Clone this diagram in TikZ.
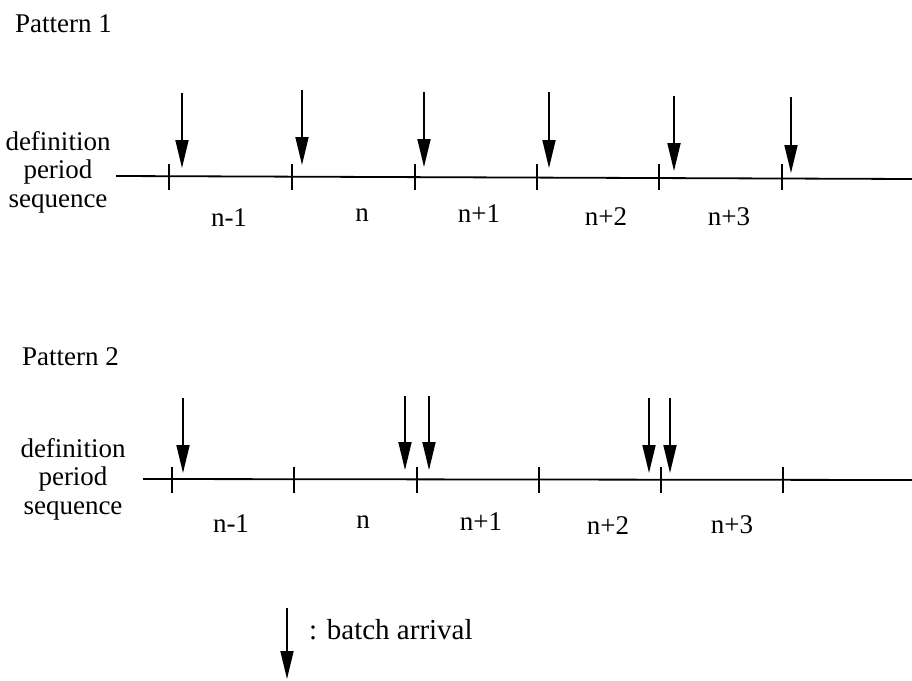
\documentclass[tikz,border=0pt]{standalone}
\usepackage{fontspec}
\setmainfont{Liberation Serif}
\usetikzlibrary{arrows.meta}

\tikzset{
  lbl/.style={inner sep=0pt, font=\fontsize{27}{28.5}\selectfont},
  seg/.style={lbl, anchor=base},
  axis/.style={line width=1.8pt},
  tick/.style={line width=1.8pt},
  arrival/.style={line width=1.8pt, -{Triangle[length=28pt,width=13pt]}}
}

\begin{document}
\begin{tikzpicture}[x=1pt, y=-1pt]
\useasboundingbox (0,0) rectangle (912,680);

% ---------- Pattern 1 ----------
\node[lbl, anchor=west] (p1) at (15,24) {Pattern 1};
\node[lbl, align=center] (d1) at (58,172) {definition\\period\\sequence};

\coordinate (a1s) at (116,176);
\coordinate (a1e) at (912,179);
\draw[axis] (a1s) -- (a1e);

\foreach \x [count=\i] in {169,292,415,537,659,782}{
  \coordinate (t1\i a) at (\x,164);
  \coordinate (t1\i b) at (\x,190);
  \draw[tick] (t1\i a) -- (t1\i b);
}

\foreach \x/\ya/\yb [count=\i] in {182/93/168, 302/90/165, 424/92/167, 549/92/168, 674/96/171, 791/97/173}{
  \coordinate (r1\i a) at (\x,\ya);
  \coordinate (r1\i b) at (\x,\yb);
  \draw[arrival] (r1\i a) -- (r1\i b);
}

\node[seg] (n1a) at (229,226) {n-1};
\node[seg] (n1b) at (362,221) {n};
\node[seg] (n1c) at (479,222) {n+1};
\node[seg] (n1d) at (606,225) {n+2};
\node[seg] (n1e) at (729,225) {n+3};

% ---------- Pattern 2 ----------
\node[lbl, anchor=west] (p2) at (22,357) {Pattern 2};
\node[lbl, align=center] (d2) at (73,479) {definition\\period\\sequence};

\coordinate (a2s) at (143,479);
\coordinate (a2e) at (912,480);
\draw[axis] (a2s) -- (a2e);

\foreach \x [count=\i] in {172,294,417,539,661,783}{
  \coordinate (t2\i a) at (\x,467);
  \coordinate (t2\i b) at (\x,493);
  \draw[tick] (t2\i a) -- (t2\i b);
}

\foreach \x/\ya/\yb [count=\i] in {183/398/473, 405/396/470, 429/396/470, 649/398/473, 670/398/473}{
  \coordinate (r2\i a) at (\x,\ya);
  \coordinate (r2\i b) at (\x,\yb);
  \draw[arrival] (r2\i a) -- (r2\i b);
}

\node[seg] (n2a) at (231,532) {n-1};
\node[seg] (n2b) at (363,528) {n};
\node[seg] (n2c) at (481,530) {n+1};
\node[seg] (n2d) at (608,534) {n+2};
\node[seg] (n2e) at (732,533) {n+3};

% ---------- Legend ----------
\coordinate (ka) at (287,608);
\coordinate (kb) at (287,679);
\draw[arrival] (ka) -- (kb);
\node[lbl, anchor=west, font=\fontsize{29}{30}\selectfont] (key) at (309,630) {: batch arrival};

\end{tikzpicture}
\end{document}
